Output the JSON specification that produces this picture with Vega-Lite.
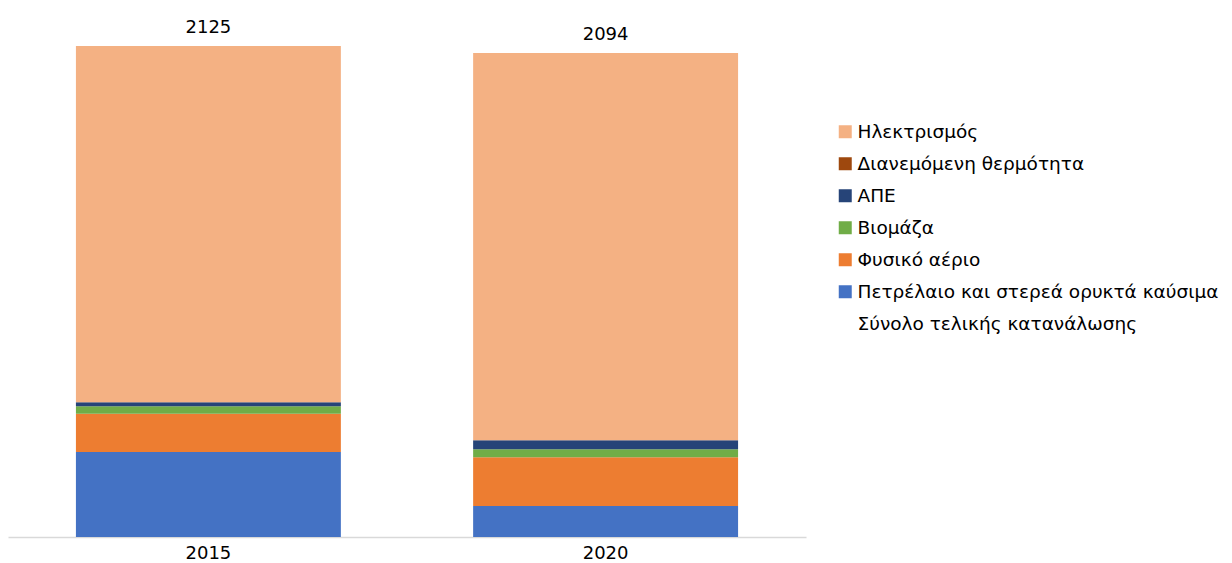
{
  "$schema": "https://vega.github.io/schema/vega-lite/v6.json",
  "width": 798,
  "height": 520,
  "autosize": {"type": "none"},
  "padding": {"left": 8, "top": 17, "right": 426, "bottom": 26},
  "background": "white",
  "config": {"view": {"stroke": null}, "font": "DejaVu Sans"},
  "datasets": {
    "parts": [
      {"year": "2015", "category": "Πετρέλαιο και στερεά ορυκτά καύσιμα", "value": 368, "ord": 1},
      {"year": "2015", "category": "Φυσικό αέριο", "value": 165, "ord": 2},
      {"year": "2015", "category": "Βιομάζα", "value": 33, "ord": 3},
      {"year": "2015", "category": "ΑΠΕ", "value": 17, "ord": 4},
      {"year": "2015", "category": "Διανεμόμενη θερμότητα", "value": 0, "ord": 5},
      {"year": "2015", "category": "Ηλεκτρισμός", "value": 1542, "ord": 6},
      {"year": "2020", "category": "Πετρέλαιο και στερεά ορυκτά καύσιμα", "value": 134, "ord": 1},
      {"year": "2020", "category": "Φυσικό αέριο", "value": 211, "ord": 2},
      {"year": "2020", "category": "Βιομάζα", "value": 35, "ord": 3},
      {"year": "2020", "category": "ΑΠΕ", "value": 39, "ord": 4},
      {"year": "2020", "category": "Διανεμόμενη θερμότητα", "value": 0, "ord": 5},
      {"year": "2020", "category": "Ηλεκτρισμός", "value": 1675, "ord": 6}
    ],
    "totals": [
      {"year": "2015", "total": 2125},
      {"year": "2020", "total": 2094}
    ]
  },
  "layer": [
    {
      "data": {"name": "parts"},
      "mark": {"type": "bar"},
      "encoding": {
        "x": {
          "field": "year", "type": "nominal",
          "scale": {"paddingInner": 0.333, "paddingOuter": 0.171},
          "axis": {"title": null, "labelAngle": 0, "ticks": false, "labelFontSize": 18, "labelColor": "#000000", "labelPadding": 7, "domainColor": "#D9D9D9", "domainWidth": 1.5, "grid": false}
        },
        "y": {"field": "value", "type": "quantitative", "stack": "zero", "scale": {"domain": [0, 2250], "nice": false, "zero": true}, "axis": null},
        "color": {
          "field": "category", "type": "nominal",
          "scale": {
            "domain": ["Ηλεκτρισμός", "Διανεμόμενη θερμότητα", "ΑΠΕ", "Βιομάζα", "Φυσικό αέριο", "Πετρέλαιο και στερεά ορυκτά καύσιμα", "Σύνολο τελικής κατανάλωσης"],
            "range": ["#F4B183", "#9E480E", "#264478", "#70AD47", "#ED7D31", "#4472C4", "#FFFFFF"]
          },
          "legend": {
            "title": null, "orient": "none", "legendX": 828, "legendY": 105.5, "padding": 0,
            "symbolType": "square", "symbolSize": 169, "symbolStrokeWidth": 0,
            "labelFontSize": 18.5, "labelColor": "#000000", "labelOffset": 3, "rowPadding": 13, "labelLimit": 500
          }
        },
        "order": {"field": "ord", "type": "quantitative"}
      }
    },
    {
      "data": {"name": "totals"},
      "mark": {"type": "text", "baseline": "alphabetic", "dy": -13, "fontSize": 18, "color": "#000000"},
      "encoding": {
        "x": {"field": "year", "type": "nominal"},
        "y": {"field": "total", "type": "quantitative"},
        "text": {"field": "total", "type": "quantitative", "format": "d"}
      }
    }
  ]
}
